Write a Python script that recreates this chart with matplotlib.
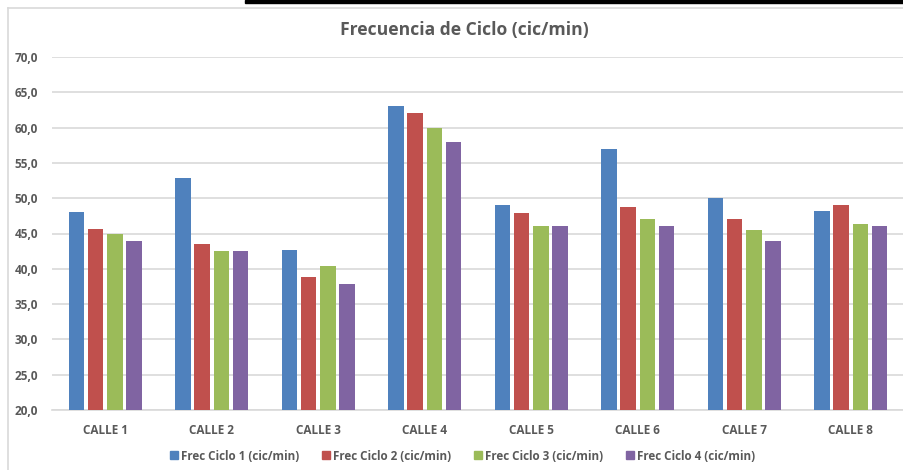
import matplotlib
matplotlib.use("Agg")
import matplotlib.pyplot as plt
import numpy as np
from matplotlib.ticker import FuncFormatter, MultipleLocator
from matplotlib.lines import Line2D
from matplotlib.patches import Rectangle

categories = ["CALLE 1", "CALLE 2", "CALLE 3", "CALLE 4", "CALLE 5", "CALLE 6", "CALLE 7", "CALLE 8"]
series_names = ["Frec Ciclo 1 (cic/min)", "Frec Ciclo 2 (cic/min)",
                "Frec Ciclo 3 (cic/min)", "Frec Ciclo 4 (cic/min)"]
ciclo1 = [48.0, 52.8, 42.6, 63.0, 49.0, 56.9, 50.0, 48.2]
ciclo2 = [45.7, 43.5, 38.8, 62.0, 47.9, 48.7, 47.0, 49.1]
ciclo3 = [45.0, 42.5, 40.4, 60.0, 46.0, 47.0, 45.5, 46.4]
ciclo4 = [44.0, 42.5, 37.9, 57.9, 46.0, 46.0, 44.0, 46.0]
colors = ["#4F81BD", "#C0504D", "#9BBB59", "#8064A2"]

plt.rcParams['font.family'] = ['Open Sans', 'DejaVu Sans']
gray = "#595959"

fig = plt.figure(figsize=(9.04, 4.70), dpi=100)
ax = fig.add_axes([52/904, 60/470, 852/904, 353/470])

x = np.arange(len(categories))
pitch = 0.181
width = 0.145
for i, (vals, c, name) in enumerate(zip([ciclo1, ciclo2, ciclo3, ciclo4], colors, series_names)):
    ax.bar(x + (i - 1.5) * pitch, np.array(vals) - 20, bottom=20, width=width,
           color=c, label=name, zorder=3)

ax.set_xlim(-0.5, len(categories) - 0.5)
ax.set_ylim(20, 70)
ax.yaxis.set_major_locator(MultipleLocator(5))
ax.yaxis.set_major_formatter(FuncFormatter(lambda v, p: f"{v:.1f}".replace(".", ",")))
ax.set_xticks(x)
ax.set_xticklabels(categories)
ax.grid(axis='y', color="#d9d9d9", linewidth=1.2, zorder=0)
for s in ["top", "right", "left"]:
    ax.spines[s].set_visible(False)
ax.spines["bottom"].set_color("#d9d9d9")
ax.spines["bottom"].set_linewidth(1.2)
ax.tick_params(axis='both', length=0, colors=gray, labelsize=8.5)
for lbl in ax.get_xticklabels() + ax.get_yticklabels():
    lbl.set_fontweight('bold')
ax.tick_params(axis='y', pad=10)
ax.tick_params(axis='x', pad=10)

fig.text(464/904, 1 - 30/470, "Frecuencia de Ciclo (cic/min)", ha='center', va='center',
         fontsize=12.6, fontweight='bold', color=gray)

handles = [Line2D([0], [0], marker='s', linestyle='none', markersize=6,
                  markerfacecolor=c, markeredgecolor=c) for c in colors]
leg = fig.legend(handles, series_names, loc='center', bbox_to_anchor=(462/904, 1 - 456/470),
                 ncol=4, frameon=False, fontsize=8.4, handletextpad=0.2, columnspacing=1.9,
                 handlelength=0.8)
for t in leg.get_texts():
    t.set_color(gray)
    t.set_fontweight('bold')

# chart border lines
fig.add_artist(Line2D([8/904, 8/904], [0, 1 - 8/470], color="#d9d9d9", linewidth=1.2,
                      transform=fig.transFigure))
fig.add_artist(Line2D([8/904, 1], [1 - 8/470, 1 - 8/470], color="#d9d9d9", linewidth=1.2,
                      transform=fig.transFigure))
fig.add_artist(Rectangle((245/904, 1 - 3/470), 1 - 245/904, 3/470, color="black",
                         transform=fig.transFigure))

fig.savefig("out.png", dpi=100)
